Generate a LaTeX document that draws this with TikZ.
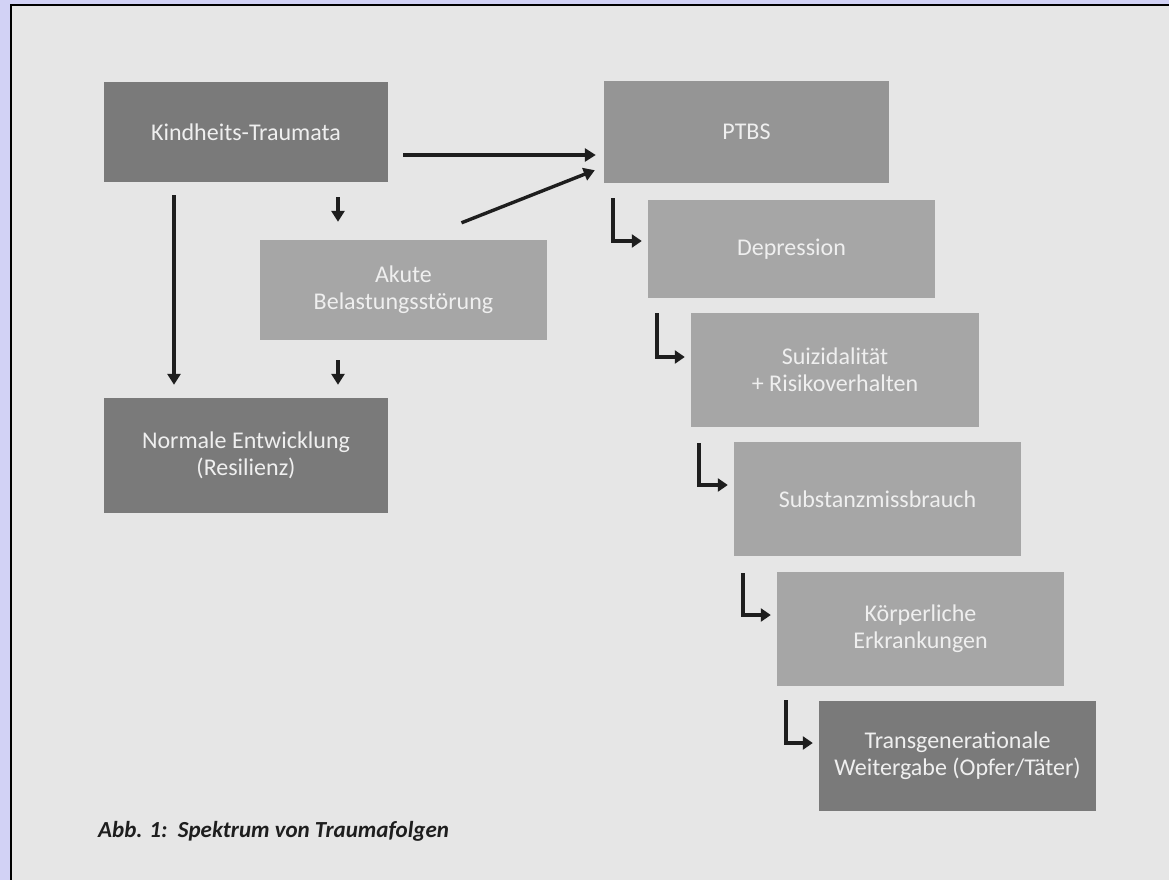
\documentclass[tikz,border=0pt]{standalone}
\usepackage{fontspec}
\setmainfont{Carlito}
\usetikzlibrary{arrows.meta,calc}
\definecolor{lav}{HTML}{D2D2F5}
\definecolor{paper}{HTML}{E6E6E6}
\definecolor{darkbox}{HTML}{7A7A7A}
\definecolor{midbox}{HTML}{959595}
\definecolor{lightbox}{HTML}{A6A6A6}
\definecolor{boxtext}{HTML}{EFEFEF}
\definecolor{ink}{HTML}{1E1E1E}
\tikzset{
  box/.style={rectangle, inner sep=0pt, align=center, text=boxtext,
    font=\fontsize{24}{27}\selectfont},
  arr/.style={draw=ink, line width=3.4pt,
    -{Triangle[width=13pt,length=11pt]}},
  larr/.style={draw=ink, line width=3.4pt,
    -{Triangle[width=13pt,length=10pt]}},
}
\begin{document}
\begin{tikzpicture}[x=1pt,y=-1pt]
\useasboundingbox (0,0) rectangle (1169,880);
\fill[lav] (0,0) rectangle (1169,880);
\fill[paper] (11,5) rectangle (1169,880);
\draw[black, line width=2.5pt] (11,880) -- (11,5) -- (1169,5);

\node[box, fill=darkbox, minimum width=284pt, minimum height=100pt] (kind) at (246,132) {Kindheits-Traumata};
\node[box, fill=midbox, minimum width=285pt, minimum height=102pt] (ptbs) at (746.5,132) {PTBS};
\node[box, fill=lightbox, minimum width=287pt, minimum height=100pt] (akut) at (403.5,290) {Akute\\Belastungsstörung};
\node[box, fill=darkbox, minimum width=284pt, minimum height=115pt] (norm) at (246,455.5) {Normale Entwicklung\\(Resilienz)};
\node[box, fill=lightbox, minimum width=287pt, minimum height=98pt] (dep) at (791.5,249) {Depression};
\node[box, fill=lightbox, minimum width=288pt, minimum height=114pt] (suiz) at (835,370) {Suizidalität\\+ Risikoverhalten};
\node[box, fill=lightbox, minimum width=287pt, minimum height=114pt] (subst) at (877.5,499) {Substanzmissbrauch};
\node[box, fill=lightbox, minimum width=287pt, minimum height=114pt] (koerp) at (920.5,629) {Körperliche\\Erkrankungen};
\node[box, fill=darkbox, minimum width=277pt, minimum height=110pt] (trans) at (957.5,756) {Transgenerationale\\Weitergabe (Opfer/Täter)};

\node[anchor=west, inner sep=0pt, text=ink, font=\fontsize{23}{27}\selectfont\bfseries\itshape] (cap) at (98,831) {Abb. 1:\ \ Spektrum von Traumafolgen};

% main arrows
\draw[arr] ($(kind.east)+(15,23)$) -- ($(ptbs.west)+(-8,23)$);
\draw[arr] ($(akut.north)+(58,-17)$) -- ($(ptbs.south west)+(-9,-13)$);
\draw[arr] ($(kind.south)+(92,15)$) -- ($(akut.north)+(-65.5,-18)$);
\draw[arr] ($(kind.south)+(-72,13)$) -- ($(norm.north)+(-72,-13)$);
\draw[arr] ($(akut.south)+(-65.5,20)$) -- ($(norm.north)+(92,-13)$);

% L-shaped arrows
\coordinate (l1) at ($(ptbs.south west)+(9,15)$);
\draw[larr] (l1) |- ($(dep.west)+(-6,-8)$);
\coordinate (l2) at ($(dep.south west)+(9,15)$);
\draw[larr] (l2) |- ($(suiz.west)+(-6,-13)$);
\coordinate (l3) at ($(suiz.south west)+(8,16)$);
\draw[larr] (l3) |- ($(subst.west)+(-6,-14)$);
\coordinate (l4) at ($(subst.south west)+(9,17)$);
\draw[larr] (l4) |- ($(koerp.west)+(-6,-14)$);
\coordinate (l5) at ($(koerp.south west)+(9,14)$);
\draw[larr] (l5) |- ($(trans.west)+(-6,-13)$);
\end{tikzpicture}
\end{document}
